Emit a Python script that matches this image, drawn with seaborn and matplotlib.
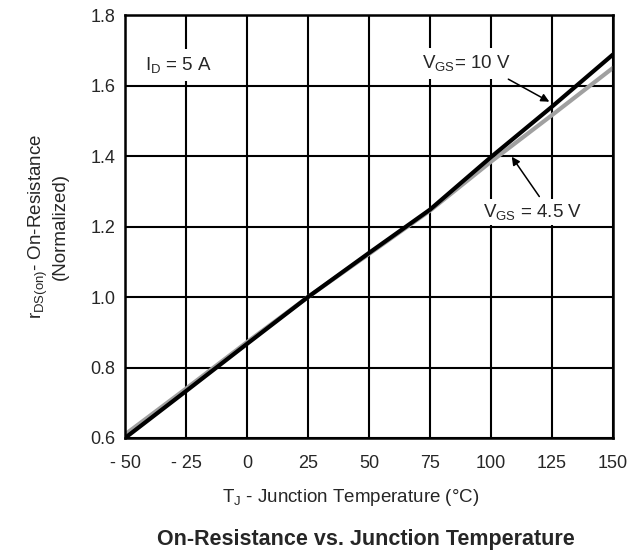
import matplotlib
matplotlib.use("Agg")
import matplotlib.pyplot as plt
import seaborn as sns
import pandas as pd

temps = [-50, -25, 0, 25, 50, 75, 100, 125, 150]
r_10v = [0.60, 0.733, 0.867, 1.00, 1.125, 1.248, 1.397, 1.54, 1.688]
r_45v = [0.61, 0.74, 0.872, 1.00, 1.122, 1.245, 1.384, 1.516, 1.65]
xticks = [-50, -25, 0, 25, 50, 75, 100, 125, 150]
xticklabels = ["- 50", "- 25", "0", "25", "50", "75", "100", "125", "150"]
yticks = [0.6, 0.8, 1.0, 1.2, 1.4, 1.6, 1.8]
yticklabels = ["0.6", "0.8", "1.0", "1.2", "1.4", "1.6", "1.8"]

df = pd.concat([
    pd.DataFrame({"T": temps, "R": r_45v, "V": "4.5 V"}),
    pd.DataFrame({"T": temps, "R": r_10v, "V": "10 V"}),
])

sns.set_style("white")
plt.rcParams["font.family"] = ["Liberation Sans", "DejaVu Sans"]
plt.rcParams["mathtext.default"] = "regular"

W, H = 643, 554
fig = plt.figure(figsize=(W / 100, H / 100), dpi=100)
ax = fig.add_axes([125 / W, 1 - 438 / H, (613 - 125) / W, (438 - 15) / H])

sns.lineplot(data=df, x="T", y="R", hue="V", palette={"4.5 V": "#a0a0a0", "10 V": "#000000"},
             linewidth=3.0, ax=ax, legend=False)

ax.set_xlim(-50, 150)
ax.set_ylim(0.6, 1.8)
ax.set_xticks(xticks)
ax.set_xticklabels(xticklabels, fontsize=13)
ax.set_yticks(yticks)
ax.set_yticklabels(yticklabels, fontsize=13)
ax.tick_params(axis="x", length=0, pad=12)
ax.tick_params(axis="y", length=0, pad=7)
ax.grid(True, color="black", linewidth=1.5)
ax.set_axisbelow(True)
for s in ax.spines.values():
    s.set_color("black")
    s.set_linewidth(1.8)
ax.set_xlabel("")
ax.set_ylabel("")

fig.text(351 / W, 1 - 497 / H, "$T_J$ - Junction Temperature (°C)", fontsize=13.5,
         ha="center", va="center")
fig.text(48 / W, 1 - 226 / H, "$r_{DS(on)}$- On-Resistance\n(Normalized)", fontsize=13.5,
         ha="center", va="center", rotation=90, linespacing=1.15, multialignment="center")
fig.text(366 / W, 1 - 540 / H, "On-Resistance vs. Junction Temperature",
         fontsize=15.5, fontweight="bold", ha="center", va="center")

box = dict(facecolor="white", edgecolor="none", pad=4)
arrow = dict(arrowstyle="-|>", color="black", lw=1.1, mutation_scale=12, shrinkA=0, shrinkB=0)

ax.text(-41.8, 1.658, "$I_D$ = 5 A", fontsize=13.5, ha="left", va="center", bbox=box)
ax.text(90, 1.663, "$V_{GS}$= 10 V", fontsize=13.5, ha="center", va="center", bbox=box)
ax.annotate("", xy=(123.9, 1.554), xytext=(107.1, 1.618), arrowprops=arrow)
ax.text(117, 1.242, "$V_{GS}$ = 4.5 V", fontsize=13.5, ha="center", va="center",
        bbox=dict(facecolor="white", edgecolor="none", pad=2))
ax.annotate("", xy=(108.5, 1.398), xytext=(119.8, 1.285), arrowprops=arrow)

fig.savefig("out.png", dpi=100)
